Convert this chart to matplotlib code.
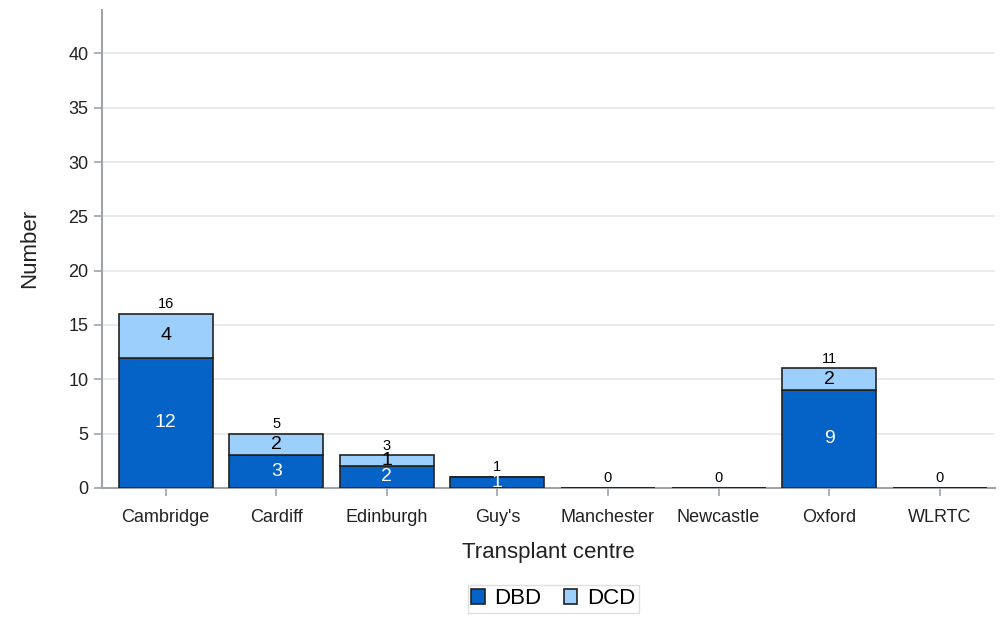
import matplotlib.pyplot as plt
import numpy as np

plt.rcParams["font.family"] = ["Liberation Sans", "DejaVu Sans"]

centres = ["Cambridge", "Cardiff", "Edinburgh", "Guy's", "Manchester", "Newcastle", "Oxford", "WLRTC"]
dbd = [12, 3, 2, 1, 0, 0, 9, 0]
dcd = [4, 2, 1, 0, 0, 0, 2, 0]

DBD_COLOR = "#0563C8"
DCD_COLOR = "#9DCFFD"

fig = plt.figure(figsize=(10.06, 6.27), dpi=100)
ax = fig.add_axes([0.101, 0.222, 0.888, 0.762])

x = np.arange(len(centres))
dbd = np.array(dbd)
dcd = np.array(dcd)
total = dbd + dcd
w = 0.85

ax.bar(x, dbd, w, color=DBD_COLOR, edgecolor="#222222", linewidth=1.2, label="DBD", zorder=3)
ax.bar(x, dcd, w, bottom=dbd, color=DCD_COLOR, edgecolor="#222222", linewidth=1.2, label="DCD", zorder=3)

for i in range(len(centres)):
    if dbd[i] > 0:
        ax.text(x[i], dbd[i] / 2, str(dbd[i]), ha="center", va="center", color="white", fontsize=14, zorder=4)
    if dcd[i] > 0:
        ax.text(x[i], dbd[i] + dcd[i] / 2, str(dcd[i]), ha="center", va="center", color="black", fontsize=14, zorder=4)
    ax.text(x[i], total[i] + 0.25, str(total[i]), ha="center", va="bottom", color="black", fontsize=10.5, zorder=4)

ax.set_xlim(-0.58, 7.5)
ax.set_ylim(0, 44)
ax.set_yticks(np.arange(0, 41, 5))
ax.set_xticks(x)
ax.set_xticklabels(centres)
ax.yaxis.grid(True, color="#e6e6e6", linewidth=1.2, zorder=0)
ax.set_axisbelow(True)
for s in ["top", "right"]:
    ax.spines[s].set_visible(False)
for s in ["left", "bottom"]:
    ax.spines[s].set_color("#a0a4a8")
    ax.spines[s].set_linewidth(1.5)
ax.tick_params(axis="both", colors="#a0a4a8", width=1.2, length=6, labelcolor="#222222", labelsize=13)
ax.tick_params(axis="x", pad=9)

ax.set_xlabel("Transplant centre", fontsize=16, color="#222222", labelpad=12)
ax.set_ylabel("Number", fontsize=16, color="#222222", labelpad=20)

leg = fig.legend(loc="center", bbox_to_anchor=(0.55, 0.045), ncol=2, fontsize=16,
                 frameon=True, fancybox=False, edgecolor="#d8d8d8",
                 handlelength=0.6, handleheight=0.6, handletextpad=0.45, columnspacing=1.0,
                 borderpad=0.15, borderaxespad=0)

fig.savefig("out.png", dpi=100)
